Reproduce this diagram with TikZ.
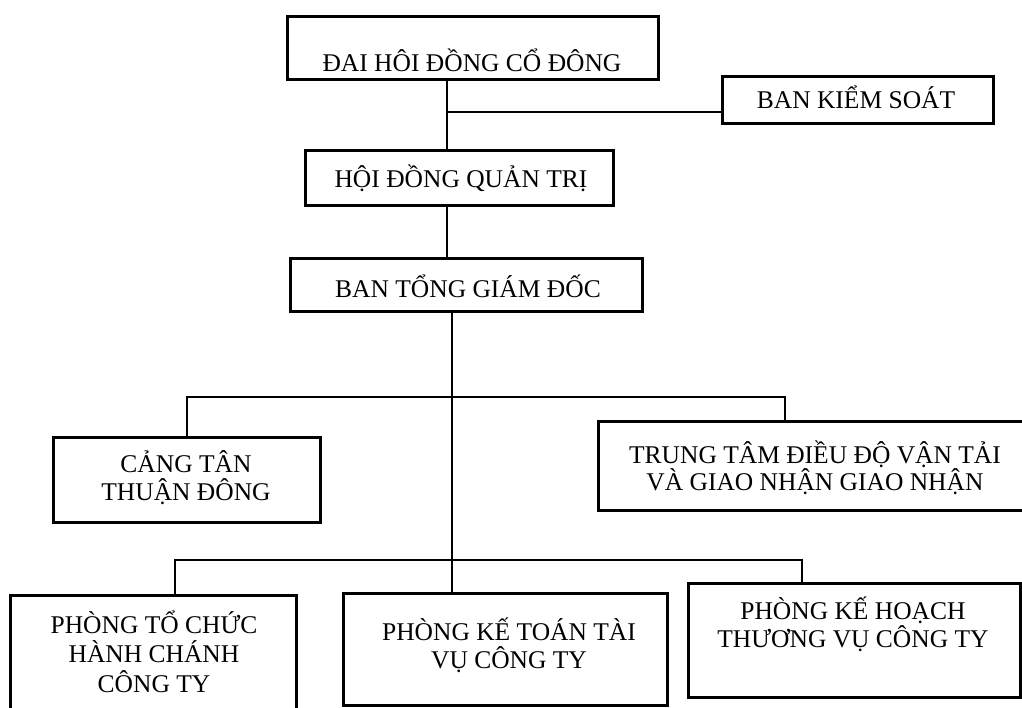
\documentclass[tikz,border=0pt]{standalone}
\usepackage{fontspec}
\setmainfont{Liberation Serif}
\begin{document}
\begin{tikzpicture}[x=1pt,y=-1pt,
  box/.style={draw=black,line width=3pt,rectangle,inner sep=0pt,fill=none},
  lbl/.style={font=\fontsize{25.5}{28}\selectfont,align=center,inner sep=0pt,anchor=base},
  conn/.style={draw=black,line width=2.8pt}]
\useasboundingbox[fill=white] (0,0) rectangle (1022,707);
% boxes (empty rectangles), named
\node[box,minimum width=371pt,minimum height=63pt] (dhcd) at (472.5,47.5) {};
\node[box,minimum width=271pt,minimum height=47pt] (bks) at (857.5,99.5) {};
\node[box,minimum width=308pt,minimum height=55pt] (hdqt) at (459,177.5) {};
\node[box,minimum width=352pt,minimum height=53pt] (btgd) at (466,284.5) {};
\node[box,minimum width=267pt,minimum height=85pt] (cang) at (186.5,479.5) {};
\node[box,minimum width=432pt,minimum height=89pt] (ttd) at (814,465.5) {};
\node[box,minimum width=286pt,minimum height=125pt] (ptc) at (153,657.5) {};
\node[box,minimum width=324pt,minimum height=112pt] (pkt) at (505,649) {};
\node[box,minimum width=332pt,minimum height=114pt] (pkh) at (854,640) {};
% labels (base = baseline of the last line)
\node[lbl] (tdhcd) at (472,71) {ĐAI HÔI ĐỒNG CỔ ĐÔNG};
\node[lbl] (tbks) at (856,108) {BAN KIỂM SOÁT};
\node[lbl] (thdqt) at (461,187) {HỘI ĐỒNG QUẢN TRỊ};
\node[lbl] (tbtgd) at (468,297) {BAN TỔNG GIÁM ĐỐC};
\node[lbl] (tcang) at (186,500) {CẢNG TÂN\\THUẬN ĐÔNG};
\node[lbl,font=\fontsize{25.5}{27}\selectfont] (tttd) at (815,490) {TRUNG TÂM ĐIỀU ĐỘ VẬN TẢI\\VÀ GIAO NHẬN GIAO NHẬN};
\node[lbl,font=\fontsize{25.5}{29.5}\selectfont] (tptc) at (154,692) {PHÒNG TỔ CHỨC\\HÀNH CHÁNH\\CÔNG TY};
\node[lbl] (tpkt) at (509,668) {PHÒNG KẾ TOÁN TÀI\\VỤ CÔNG TY};
\node[lbl,font=\fontsize{25.5}{25}\selectfont] (tpkh) at (853,647) {PHÒNG KẾ HOẠCH\\THƯƠNG VỤ CÔNG TY};
% junction coordinates
\coordinate (x1) at (447,0);
\coordinate (j1) at (447,112);
\coordinate (x2) at (452,0);
\coordinate (mid) at (452,397);
\coordinate (ml) at (187,397);
\coordinate (mr) at (785,397);
\coordinate (bot) at (452,560);
\coordinate (bl) at (175,560);
\coordinate (br) at (802,560);
% connectors
\draw[conn] (dhcd.south -| x1) -- (hdqt.north -| x1);
\draw[conn] (j1) -- (j1 -| bks.west);
\draw[conn] (hdqt.south -| x1) -- (btgd.north -| x1);
\draw[conn] (btgd.south -| x2) -- (bot);
\draw[conn] (cang.north -| ml) -- (ml) -- (mr) -- (ttd.north -| mr);
\draw[conn] (ptc.north -| bl) -- (bl) -- (br) -- (pkh.north -| br);
\draw[conn] (bot) -- (pkt.north -| bot);
\end{tikzpicture}
\end{document}
